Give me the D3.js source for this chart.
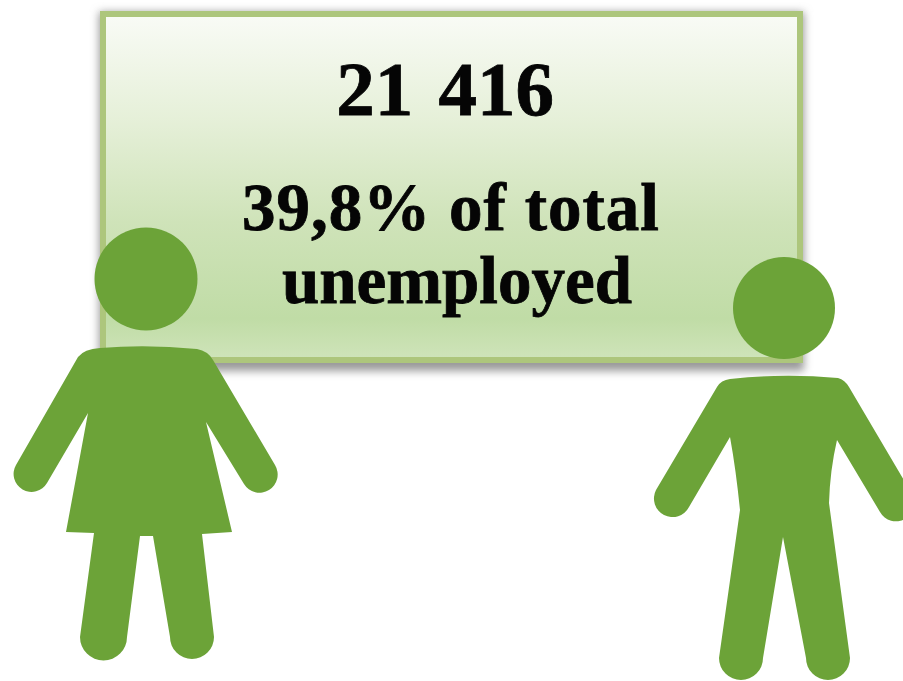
<!DOCTYPE html>
<html>
<head>
<meta charset="utf-8">
<script src="https://cdn.jsdelivr.net/npm/d3@7"></script>
<style>
  html, body { margin: 0; padding: 0; background: #fff; overflow: hidden; }
  svg { display: block; }
  text { font-family: "Liberation Serif", serif; font-weight: bold; fill: #050505; stroke: #050505; stroke-width: 0.8; text-anchor: middle; }
</style>
</head>
<body>
<div id="chart"></div>
<script>
// ---- Data -------------------------------------------------------------------
const unemployed_total = ['21 416'];
const unemployed_share = ['39,8% of total', 'unemployed'];
const figure_names = ['woman', 'man'];

// ---- Layout -----------------------------------------------------------------
const width = 903;
const height = 681;
const green = '#6ca339';

// pictogram outlines, drawn in the page's own pixel space
// (arc radius 1 gets scaled up by the browser, so each limb ends in a half circle)
const figure_shapes = {
  woman: {
    head: [146, 279, 51.5],
    body: `M78 357 Q84 349 100 348 Q147 344 197 349 Q208 351 213 360 L275 465
           A1 1 0 0 1 244 484 L206 422 L232 532 L202 534 L214 637
           A1 1 0 0 1 170 637 L153 536 L140 536 L127 637
           A1 1 0 0 1 80 637 L94 533 L66 532 L88 413 L47 483
           A1 1 0 0 1 16 465 Z`
  },
  man: {
    head: [784, 308, 51],
    body: `M717 387 Q721 380 730 379 Q783 373 838 378 Q845 380 849 387 L912 494
           A1 1 0 0 1 880 512 L837 440 Q830 470 829 503 L850 658
           A1 1 0 0 1 806 658 L783 537 L763 658
           A1 1 0 0 1 719 658 L740 510 Q736 470 730 437 L689 507
           A1 1 0 0 1 656 490 Z`
  }
};

const svg = d3.select('#chart').append('svg')
  .attr('width', width)
  .attr('height', height)
  .attr('viewBox', [0, 0, width, height]);

const defs = svg.append('defs');

const gradient = defs.append('linearGradient')
  .attr('id', 'box-fill')
  .attr('x1', 0).attr('x2', 0).attr('y1', 0).attr('y2', 1);

gradient.selectAll('stop')
  .data([
    ['0%', '#f9fbf6'],
    ['30%', '#e6f0d9'],
    ['60%', '#cfe3b9'],
    ['88%', '#c0dca6'],
    ['100%', '#cfe4ba']
  ])
  .join('stop')
  .attr('offset', d => d[0])
  .attr('stop-color', d => d[1]);

defs.append('filter').attr('id', 'box-shadow')
  .attr('x', '-5%').attr('y', '-5%').attr('width', '110%').attr('height', '110%')
  .append('feGaussianBlur').attr('stdDeviation', 4);

defs.append('filter').attr('id', 'soft')
  .append('feGaussianBlur').attr('stdDeviation', 0.6);

// ---- Box --------------------------------------------------------------------
svg.append('rect')
  .attr('x', 99).attr('y', 12)
  .attr('width', 705).attr('height', 359)
  .attr('fill', '#9a9a9a')
  .attr('filter', 'url(#box-shadow)');

svg.append('rect')
  .attr('x', 103).attr('y', 14)
  .attr('width', 697).attr('height', 346)
  .attr('fill', 'url(#box-fill)')
  .attr('stroke', '#adc67c')
  .attr('stroke-width', 6);

// ---- Text -------------------------------------------------------------------
svg.selectAll('text.total')
  .data(unemployed_total)
  .join('text')
  .attr('class', 'total')
  .attr('x', 445)
  .attr('y', 115)
  .attr('font-size', 77)
  .attr('word-spacing', 6)
  .text(d => d);

svg.selectAll('text.share')
  .data(unemployed_share)
  .join('text')
  .attr('class', 'share')
  .attr('x', (d, i) => [451, 457][i])
  .attr('y', (d, i) => [230, 303][i])
  .attr('font-size', 67)
  .attr('letter-spacing', (d, i) => [1, 0][i])
  .text(d => d);

// ---- Figures ----------------------------------------------------------------
const figures = svg.selectAll('g.figure')
  .data(figure_names)
  .join('g')
  .attr('class', 'figure')
  .attr('fill', green)
  .attr('filter', 'url(#soft)');

figures.append('circle')
  .attr('cx', d => figure_shapes[d].head[0])
  .attr('cy', d => figure_shapes[d].head[1])
  .attr('r', d => figure_shapes[d].head[2]);

figures.append('path')
  .attr('d', d => figure_shapes[d].body);
</script>
</body>
</html>
